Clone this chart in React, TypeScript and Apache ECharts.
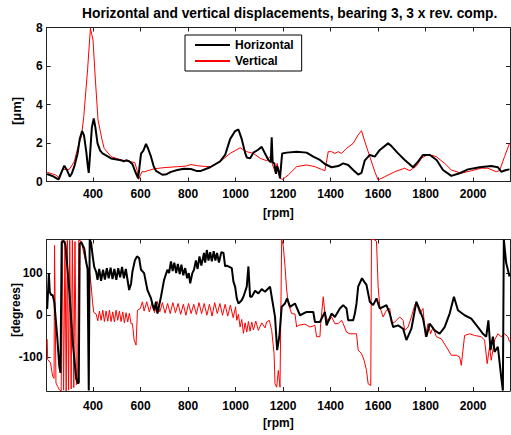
import React, { useEffect, useRef } from "react";
import * as echarts from "echarts";

const X_MIN = 205;
const X_MAX = 2155;
const rpmTicks = [400, 600, 800, 1000, 1200, 1400, 1600, 1800, 2000];
const ampTicks = [0, 2, 4, 6, 8];
const phaseTicks = [-100, 0, 100];

const titleText = "Horizontal and vertical displacements, bearing 3, 3 x rev. comp.";
const seriesNames = ["Horizontal", "Vertical"];

// amplitude [rpm, µm]
const horizAmp: number[][] = [
  [207, 0.39], [235, 0.25], [245, 0.17], [256, 0.12], [268, 0.5], [279, 0.82], [290, 0.6], [302, 0.25],
  [310, 0.4], [321, 0.77], [335, 1.46], [344, 2.2], [354, 2.62], [362, 2.4], [372, 1.5], [378, 0.8],
  [382, 0.45], [388, 1.5], [395, 2.8], [403, 3.28], [410, 2.8], [419, 1.98], [430, 1.6], [440, 1.46],
  [476, 1.2], [518, 1.1], [530, 1.05], [539, 1.1], [552, 1.05], [566, 0.9], [578, 0.5], [590, 0.17],
  [596, 0.8], [602, 1.45], [612, 1.6], [623, 1.95], [632, 1.7], [644, 1.29], [655, 0.8], [665, 0.55],
  [692, 0.35], [710, 0.38], [728, 0.5], [755, 0.6], [783, 0.66], [812, 0.65], [835, 0.55], [854, 0.55],
  [893, 0.74], [935, 1.05], [956, 1.38], [977, 2.2], [998, 2.62], [1012, 2.7], [1026, 2.2], [1040, 1.5],
  [1047, 1.25], [1061, 1.2], [1075, 1.5], [1095, 1.65], [1110, 1.8], [1124, 1.45], [1138, 1.12], [1148, 1.0],
  [1152, 2.3], [1156, 1.0], [1163, 0.94], [1170, 0.4], [1175, 0.8], [1180, 0.6], [1187, 0.17], [1192, 0.9],
  [1196, 1.46], [1215, 1.5], [1257, 1.55], [1299, 1.5], [1327, 1.29], [1355, 1.12], [1376, 0.91], [1404, 0.74],
  [1432, 0.8], [1453, 0.94], [1474, 0.86], [1495, 0.6], [1516, 0.36], [1530, 0.45], [1544, 1.1], [1565, 1.38],
  [1586, 1.29], [1607, 1.64], [1642, 1.98], [1656, 1.84], [1684, 1.46], [1712, 1.12], [1747, 0.74], [1768, 1.03],
  [1789, 1.38], [1818, 1.38], [1846, 1.12], [1873, 0.6], [1908, 0.29], [1943, 0.43], [1978, 0.63], [2027, 0.74],
  [2076, 0.8], [2104, 0.74], [2118, 0.51], [2139, 0.6], [2153, 0.63],
];

const vertAmp: number[][] = [
  [207, 0.48], [242, 0.34], [256, 0.22], [272, 0.63], [300, 0.63], [321, 1.03], [335, 1.72], [352, 2.4],
  [361, 3.37], [377, 5.8], [389, 7.96], [400, 7.35], [410, 5.27], [421, 3.2], [438, 2.16], [447, 1.72],
  [476, 1.29], [518, 1.12], [560, 1.03], [576, 0.98], [585, 0.6], [592, 0.11], [600, 0.35], [606, 0.51],
  [615, 0.5], [657, 0.66], [699, 0.72], [755, 0.77], [790, 0.8], [812, 0.88], [840, 0.82], [854, 0.8],
  [893, 0.77], [935, 1.03], [977, 1.46], [1019, 1.75], [1047, 1.55], [1075, 1.46], [1104, 1.2], [1131, 1.08],
  [1145, 1.29], [1156, 0.86], [1166, 0.51], [1175, 0.94], [1187, 0.17], [1198, 0.11], [1222, 0.34], [1257, 0.77],
  [1299, 0.86], [1334, 0.77], [1362, 0.63], [1376, 0.56], [1390, 1.55], [1404, 1.55], [1418, 1.46], [1432, 1.55],
  [1446, 1.46], [1467, 1.72], [1495, 1.98], [1516, 2.42], [1530, 2.64], [1544, 2.07], [1565, 1.29], [1586, 0.51],
  [1600, 0.08], [1628, 0.25], [1670, 0.51], [1712, 0.69], [1733, 0.56], [1761, 0.8], [1782, 1.2], [1810, 1.41],
  [1845, 1.29], [1880, 0.94], [1908, 0.6], [1950, 0.43], [1992, 0.56], [2034, 0.69], [2062, 0.69], [2097, 0.51],
  [2111, 0.56], [2132, 1.29], [2153, 1.98],
];

// phase [rpm, degrees]
const horizPhase: number[][] = [
  [207, 15], [212, 71], [214, 100], [218, 55], [224, 48], [230, 48], [237, 31], [249, -49], [258, -121],
  [263, -137], [268, 174], [277, 177], [284, 167], [300, 60], [314, -60], [329, -150], [335, -161], [340, -161],
  [344, 170], [350, 174], [363, 159], [371, 127], [377, 110], [382, -179], [386, 180], [392, 172], [398, 143],
  [405, 115], [413, 103], [419, 84], [426, 110], [434, 82], [442, 108], [450, 85], [458, 112], [466, 88],
  [474, 113], [482, 86], [490, 110], [498, 84], [506, 112], [514, 90], [522, 115], [530, 88], [538, 110],
  [545, 85], [552, 60], [560, 75], [566, 104], [576, 130], [585, 140], [594, 136], [602, 108], [615, 100],
  [629, 60], [644, 40], [657, 12], [665, 32], [671, 4], [686, 44], [699, 84], [713, 108], [720, 100],
  [728, 128], [735, 105], [742, 125], [750, 100], [757, 122], [765, 98], [772, 120], [780, 95], [788, 112],
  [796, 88], [803, 100], [809, 76], [818, 100], [825, 108], [833, 130], [840, 110], [848, 140], [856, 118],
  [867, 148], [872, 125], [879, 155], [886, 130], [893, 150], [900, 128], [908, 152], [915, 130], [922, 148],
  [930, 125], [940, 150], [949, 148], [956, 116], [963, 118], [984, 112], [991, 80], [998, 68], [1005, 40],
  [1012, 28], [1025, 35], [1033, 44], [1047, 68], [1054, 116], [1061, 44], [1068, 44], [1082, 58], [1096, 52],
  [1110, 62], [1124, 56], [1145, 68], [1152, 44], [1166, -4], [1175, -83], [1184, -51], [1194, 20], [1208, 28],
  [1217, 40], [1229, 20], [1250, 28], [1271, 0], [1299, 8], [1327, 8], [1334, -16], [1355, -16], [1376, 8],
  [1383, -24], [1404, 4], [1418, -4], [1439, 16], [1453, 24], [1467, 16], [1474, -12], [1495, -12], [1502, 4],
  [1509, 28], [1516, 68], [1532, 88], [1541, 80], [1551, 72], [1565, 32], [1579, 24], [1593, 40], [1607, 16],
  [1621, 20], [1635, 24], [1649, 4], [1663, -28], [1684, -24], [1705, -32], [1719, -59], [1740, -32], [1761, 32],
  [1775, 12], [1789, -8], [1803, -51], [1817, -20], [1838, -36], [1859, -44], [1880, -28], [1901, 4], [1919, 44],
  [1936, 12], [1964, 0], [1992, -8], [2020, -28], [2041, -44], [2055, -51], [2064, -12], [2073, -83], [2083, -51],
  [2090, -87], [2104, -75], [2118, -147], [2125, -179], [2129, 180], [2139, 124], [2153, 92],
];

const vertPhase: number[][] = [
  [207, -57], [209, -105], [221, -113], [230, -145], [236, -150], [238, 166], [244, -161], [251, -169],
  [258, -177], [266, -180], [270, 178], [276, -178], [282, 176], [287, -180], [292, 178], [297, -178],
  [302, 178], [308, -175], [313, 178], [319, -172], [324, 175], [330, -165], [335, -160], [340, 178],
  [350, 176], [363, 143], [377, 111], [386, 100], [392, 71], [398, 31], [403, 7], [413, 3],
  [420, -13], [427, 10], [434, -12], [441, 12], [448, -15], [455, 10], [462, -14], [469, 12], [476, -15],
  [483, 8], [490, -16], [497, 12], [504, -12], [511, 10], [518, -15], [525, 8], [532, -18], [539, 6],
  [546, -16], [553, 5], [560, -20], [566, -20], [573, -59], [581, -71], [587, 12], [599, 16], [608, 32],
  [615, 10], [626, 32], [637, 8], [648, 30], [659, 6], [670, 33], [681, 8], [692, 30], [703, 5], [714, 28],
  [725, 4], [736, 30], [747, 6], [758, 28], [769, 2], [780, 26], [791, 0], [802, 28], [813, 4], [824, 26],
  [835, 2], [846, 30], [857, 4], [868, 28], [879, 0], [890, 26], [901, -2], [912, 30], [923, 4], [934, 28],
  [945, 0], [956, 26], [967, -2], [978, 24], [990, -6], [1000, 20], [1005, -12], [1012, 2], [1019, -28],
  [1026, -10], [1033, -43], [1040, -18], [1047, -40], [1054, -15], [1061, -38], [1068, -16], [1075, -35],
  [1085, -14], [1096, -36], [1110, -18], [1124, -30], [1131, -16], [1142, -12], [1152, -36], [1162, -91],
  [1166, -163], [1173, -171], [1180, -131], [1187, -171], [1194, 180], [1201, 164], [1208, 116], [1215, 60],
  [1222, 28], [1236, 4], [1250, 3], [1257, -28], [1264, -24], [1292, -21], [1313, -28], [1334, -24],
  [1341, -51], [1355, -51], [1358, -20], [1369, 44], [1376, 4], [1390, -16], [1404, -4], [1418, -20],
  [1432, -20], [1446, -12], [1453, -20], [1467, -40], [1481, -44], [1509, -44], [1516, -83], [1530, -91],
  [1541, -107], [1551, -131], [1558, -163], [1569, -167], [1572, 180], [1583, 180], [1593, 176], [1600, 68],
  [1607, 20], [1621, -4], [1635, 12], [1649, 16], [1656, -20], [1670, -16], [1691, -4], [1705, -12],
  [1712, -36], [1726, -28], [1740, -4], [1754, 24], [1761, 32], [1775, 4], [1789, 16], [1799, -51],
  [1810, -20], [1821, -44], [1831, -28], [1845, -51], [1866, -56], [1887, -75], [1908, -95], [1929, -95],
  [1943, -99], [1950, -119], [1964, -48], [1985, -44], [2006, -48], [2034, -51], [2048, -59], [2059, -115],
  [2069, -75], [2076, -107], [2090, -59], [2104, -44], [2118, -51], [2132, -44], [2146, -51], [2153, -63],
];

const FONT = "'Liberation Sans', Arial, Helvetica, sans-serif";
const AXIS_COLOR = "#222";

function xAxisPair(gridIndex: number, name: string, labelMargin: number, nameGap: number) {
  const common = {
    type: "value",
    gridIndex,
    min: X_MIN,
    max: X_MAX,
    splitLine: { show: false },
    axisLine: { show: true, onZero: false, lineStyle: { color: AXIS_COLOR, width: 1 } },
    axisTick: { show: true, inside: true, length: 4, customValues: rpmTicks, lineStyle: { color: AXIS_COLOR } },
  };
  return [
    {
      ...common,
      position: "bottom",
      axisLabel: {
        show: true,
        customValues: rpmTicks,
        formatter: (v: number) => String(v),
        margin: labelMargin,
        color: "#000",
        fontWeight: "bold",
        fontSize: 12,
        fontFamily: FONT,
      },
      name,
      nameLocation: "middle",
      nameGap,
      nameTextStyle: { color: "#000", fontWeight: "bold", fontSize: 12, fontFamily: FONT },
    },
    { ...common, position: "top", axisLabel: { show: false } },
  ];
}

function yAxisPair(gridIndex: number, min: number, max: number, ticks: number[]) {
  const common = {
    type: "value",
    gridIndex,
    min,
    max,
    splitLine: { show: false },
    axisLine: { show: true, onZero: false, lineStyle: { color: AXIS_COLOR, width: 1 } },
    axisTick: { show: true, inside: true, length: 4, customValues: ticks, lineStyle: { color: AXIS_COLOR } },
  };
  return [
    {
      ...common,
      position: "left",
      axisLabel: {
        show: true,
        customValues: ticks,
        formatter: (v: number) => String(v),
        margin: 4,
        color: "#000",
        fontWeight: "bold",
        fontSize: 12,
        fontFamily: FONT,
      },
    },
    { ...common, position: "right", axisLabel: { show: false } },
  ];
}

export default function App() {
  const ref = useRef<HTMLDivElement>(null);

  useEffect(() => {
    if (!ref.current) return;
    const chart = echarts.init(ref.current, undefined, { renderer: "svg" });
    const option: any = {
      animation: false,
      backgroundColor: "#fff",
      title: {
        text: titleText,
        left: 82,
        top: 6,
        padding: 0,
        textStyle: { color: "#000", fontWeight: "bold", fontSize: 13.8, fontFamily: FONT },
      },
      legend: {
        data: seriesNames,
        orient: "vertical",
        left: 185,
        top: 35,
        padding: [4, 8, 4, 9],
        itemWidth: 35,
        itemHeight: 10,
        itemGap: 4,
        itemStyle: { opacity: 0 },
        backgroundColor: "#fff",
        borderColor: "#000",
        borderWidth: 1,
        borderRadius: 0,
        textStyle: { color: "#000", fontWeight: "bold", fontSize: 12, fontFamily: FONT },
      },
      grid: [
        { left: 46.7, top: 27.5, width: 463.3, height: 154 },
        { left: 46.7, top: 239.5, width: 463.3, height: 151.5 },
      ],
      xAxis: [...xAxisPair(0, "[rpm]", 6, 25), ...xAxisPair(1, "[rpm]", 9, 26)],
      yAxis: [...yAxisPair(0, 0, 8, ampTicks), ...yAxisPair(1, -180, 180, phaseTicks)],
      graphic: [
        {
          type: "text",
          x: 16,
          y: 111,
          rotation: Math.PI / 2,
          style: {
            text: "[μm]",
            fill: "#000",
            fontWeight: "bold",
            fontSize: 13,
            fontFamily: FONT,
            align: "center",
            verticalAlign: "middle",
          },
        },
        {
          type: "text",
          x: 16,
          y: 310,
          rotation: Math.PI / 2,
          style: {
            text: "[degrees]",
            fill: "#000",
            fontWeight: "bold",
            fontSize: 12,
            fontFamily: FONT,
            align: "center",
            verticalAlign: "middle",
          },
        },
      ],
      series: [
        {
          type: "line",
          name: seriesNames[0],
          xAxisIndex: 0,
          yAxisIndex: 0,
          data: horizAmp,
          symbol: "none",
          lineStyle: { color: "#000", width: 2 },
          itemStyle: { color: "#000" },
          z: 3,
        },
        {
          type: "line",
          name: seriesNames[1],
          xAxisIndex: 0,
          yAxisIndex: 0,
          data: vertAmp,
          symbol: "none",
          lineStyle: { color: "#ff0000", width: 1 },
          itemStyle: { color: "#ff0000" },
          z: 2,
        },
        {
          type: "line",
          name: "Horizontal phase",
          xAxisIndex: 2,
          yAxisIndex: 2,
          data: horizPhase,
          symbol: "none",
          lineStyle: { color: "#000", width: 2 },
          itemStyle: { color: "#000" },
          z: 3,
        },
        {
          type: "line",
          name: "Vertical phase",
          xAxisIndex: 2,
          yAxisIndex: 2,
          data: vertPhase,
          symbol: "none",
          lineStyle: { color: "#ff0000", width: 1 },
          itemStyle: { color: "#ff0000" },
          z: 2,
        },
      ],
    };
    chart.setOption(option);
    return () => chart.dispose();
  }, []);

  return (
    <div
      ref={ref}
      style={{ position: "fixed", left: 0, top: 0, width: 511, height: 435, background: "#fff" }}
    />
  );
}
